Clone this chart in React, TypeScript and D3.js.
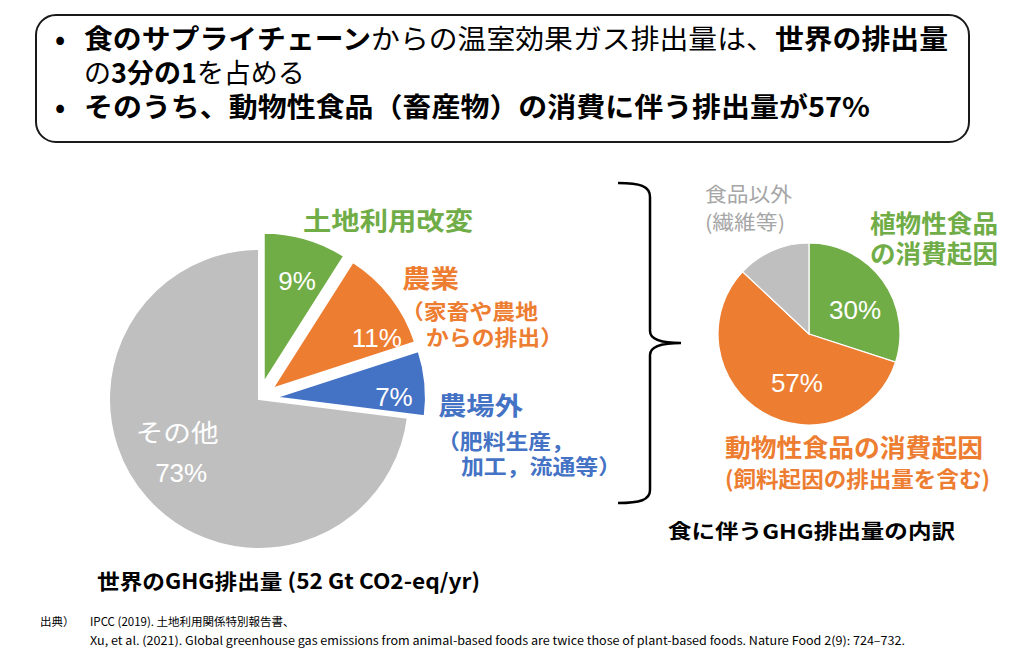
import React from "react";
import * as d3 from "d3";

// ---------- data ----------
const leftCategories = ["土地利用改変", "農業", "農場外", "その他"];
const leftValues = [9, 11, 7, 73];
const leftColors = ["#70AD47", "#ED7D31", "#4472C4", "#BFBFBF"];
const leftExploded = [true, true, true, false];

const rightCategories = ["植物性食品の消費起因", "動物性食品の消費起因", "食品以外"];
const rightValues = [30, 57, 13];
const rightColors = ["#70AD47", "#ED7D31", "#BFBFBF"];
const rightShowPct = [true, true, false];

const headerLine1 = [
  { t: "食のサプライチェーン", b: true },
  { t: "からの温室効果ガス排出量は、", b: false },
  { t: "世界の排出量", b: true },
];
const headerLine2 = [
  { t: "の", b: false },
  { t: "3分の1", b: true },
  { t: "を占める", b: false },
];
const headerLine3 = "そのうち、動物性食品（畜産物）の消費に伴う排出量が57%";

const leftTitle = "世界のGHG排出量 (52 Gt CO2-eq/yr)";
const rightTitle = "食に伴うGHG排出量の内訳";
const sourceLines = [
  "IPCC (2019). 土地利用関係特別報告書、",
  "Xu, et al. (2021). Global greenhouse gas emissions from animal-based foods are twice those of plant-based foods. Nature Food 2(9): 724–732.",
];

// ---------- layout ----------
const W = 1024;
const H = 653;
const JP = "'Noto Sans CJK JP', 'Noto Sans', sans-serif";
const LAT = "'Liberation Sans', Arial, sans-serif";

const L = { cx: 259, cy: 399, r: 150, explode: 17 };
const R = { cx: 809, cy: 334, r: 91 };
// label placement tweaks (angle nudge in degrees, radius in px)
const leftLabelPos = [
  { da: 2, r: 107 },
  { da: 12, r: 116 },
  { da: 5, r: 118 },
  { da: 8, r: 98 },
];
const rightLabelPos = [
  { da: 8.5, r: 52 },
  { da: -16.6, r: 50 },
  { da: 0, r: 50 },
];

const toXY = (ang: number, r: number) => [Math.sin(ang) * r, -Math.cos(ang) * r];

export default function App() {
  const pie = d3.pie<number>().sort(null).value((d) => d);
  const leftArcs = pie(leftValues);
  const rightArcs = pie(rightValues);
  const arcL = d3.arc<d3.PieArcDatum<number>>().innerRadius(0).outerRadius(L.r);
  const arcR = d3.arc<d3.PieArcDatum<number>>().innerRadius(0).outerRadius(R.r);

  return (
    <svg width={W} height={H} viewBox={`0 0 ${W} ${H}`} style={{ position: "absolute", left: 0, top: 0, background: "#fff" }}>
      <rect x={0} y={0} width={W} height={H} fill="#fff" />
      {/* header box */}
      <rect x={36} y={15} width={933} height={127} rx={20} ry={20} fill="none" stroke="#1a1a1a" strokeWidth={2} />
      <g fontFamily={JP} fontSize={27} fill="#000">
        <text x={55} y={49} fontWeight={700}>•</text>
        <text x={84} y={49} textLength={864} lengthAdjust="spacingAndGlyphs">
          {headerLine1.map((s, i) => (
            <tspan key={i} fontWeight={s.b ? 700 : 400}>{s.t}</tspan>
          ))}
        </text>
        <text x={84} y={83}>
          {headerLine2.map((s, i) => (
            <tspan key={i} fontWeight={s.b ? 700 : 400}>{s.t}</tspan>
          ))}
        </text>
        <text x={55} y={117} fontWeight={700}>•</text>
        <text x={84} y={117} fontWeight={700} textLength={786} lengthAdjust="spacingAndGlyphs">{headerLine3}</text>
      </g>

      {/* left pie */}
      <g>
        {leftArcs.map((a, i) => {
          const mid = (a.startAngle + a.endAngle) / 2;
          const [ox, oy] = leftExploded[i] ? toXY(mid, L.explode) : [0, 0];
          return (
            <path
              key={i}
              d={arcL(a) || ""}
              transform={`translate(${L.cx + ox},${L.cy + oy})`}
              fill={leftColors[i]}
              stroke="#fff"
              strokeWidth={2}
              strokeLinejoin="round"
            />
          );
        })}
        {leftArcs.map((a, i) => {
          const mid = (a.startAngle + a.endAngle) / 2;
          const [ox, oy] = leftExploded[i] ? toXY(mid, L.explode) : [0, 0];
          const lp = leftLabelPos[i];
          const [lx, ly] = toXY(mid + (lp.da * Math.PI) / 180, lp.r);
          const x = L.cx + ox + lx;
          const y = L.cy + oy + ly;
          if (i === 3) {
            return (
              <g key={i} fill="#fff" textAnchor="middle">
                <text x={x} y={y - 19.5} dy="0.35em" fontFamily={JP} fontSize={25} textLength={83} lengthAdjust="spacingAndGlyphs">
                  {leftCategories[i]}
                </text>
                <text x={x + 4} y={y + 19.5} dy="0.35em" fontFamily={LAT} fontSize={26}>
                  {`${leftValues[i]}%`}
                </text>
              </g>
            );
          }
          return (
            <text key={i} x={x} y={y} dy="0.35em" textAnchor="middle" fill="#fff" fontFamily={LAT} fontSize={26}>
              {`${leftValues[i]}%`}
            </text>
          );
        })}
      </g>

      {/* left outside labels */}
      <g fontFamily={JP} fontWeight={700}>
        <text x={303} y={229.5} fontSize={25} fill={leftColors[0]} textLength={170} lengthAdjust="spacingAndGlyphs">{leftCategories[0]}</text>
        <text x={402} y={287.5} fontSize={25} fill={leftColors[1]} textLength={57} lengthAdjust="spacingAndGlyphs">{leftCategories[1]}</text>
        <text x={401} y={319} fontSize={21} fill={leftColors[1]} textLength={137} lengthAdjust="spacingAndGlyphs">（家畜や農地</text>
        <text x={426} y={345} fontSize={21} fill={leftColors[1]} textLength={137} lengthAdjust="spacingAndGlyphs">からの排出）</text>
        <text x={438} y={414.5} fontSize={25} fill={leftColors[2]} textLength={85} lengthAdjust="spacingAndGlyphs">{leftCategories[2]}</text>
        <text x={437} y={449} fontSize={21} fill={leftColors[2]} textLength={137} lengthAdjust="spacingAndGlyphs">（肥料生産，</text>
        <text x={461} y={474} fontSize={21} fill={leftColors[2]} textLength={160} lengthAdjust="spacingAndGlyphs">加工，流通等）</text>
      </g>
      <text x={97} y={588.5} fontFamily={JP} fontWeight={700} fontSize={21} fill="#000" textLength={383} lengthAdjust="spacingAndGlyphs">
        {leftTitle}
      </text>

      {/* brace */}
      <path
        d="M618,183 C640,183 650,186 650,197 L650,331 C650,339 660,343 681,343 C660,343 650,347 650,355 L650,490 C650,500 640,503 618,503"
        fill="none"
        stroke="#000"
        strokeWidth={2.5}
      />

      {/* right pie */}
      <g transform={`translate(${R.cx},${R.cy})`}>
        {rightArcs.map((a, i) => (
          <path key={i} d={arcR(a) || ""} fill={rightColors[i]} stroke="#fff" strokeWidth={1.2} />
        ))}
        {rightArcs.map((a, i) => {
          if (!rightShowPct[i]) return null;
          const mid = (a.startAngle + a.endAngle) / 2;
          const lp = rightLabelPos[i];
          const [lx, ly] = toXY(mid + (lp.da * Math.PI) / 180, lp.r);
          return (
            <text key={i} x={lx} y={ly} dy="0.35em" textAnchor="middle" fill="#fff" fontFamily={LAT} fontSize={26}>
              {`${rightValues[i]}%`}
            </text>
          );
        })}
      </g>

      {/* right labels */}
      <g fontFamily={JP}>
        <text x={705} y={201.5} fontSize={20} fill="#A6A6A6" textLength={87} lengthAdjust="spacingAndGlyphs">{rightCategories[2]}</text>
        <text x={705} y={229.5} fontSize={20} fill="#A6A6A6" textLength={80} lengthAdjust="spacingAndGlyphs">(繊維等)</text>
        <text x={870} y={232.5} fontSize={25} fontWeight={700} fill={rightColors[0]} textLength={128} lengthAdjust="spacingAndGlyphs">植物性食品</text>
        <text x={870} y={262.5} fontSize={25} fontWeight={700} fill={rightColors[0]} textLength={128} lengthAdjust="spacingAndGlyphs">の消費起因</text>
        <text x={725} y={456.5} fontSize={25} fontWeight={700} fill={rightColors[1]} textLength={258} lengthAdjust="spacingAndGlyphs">{rightCategories[1]}</text>
        <text x={725} y={486.5} fontSize={22} fontWeight={700} fill={rightColors[1]} textLength={265} lengthAdjust="spacingAndGlyphs">(飼料起因の排出量を含む)</text>
        <text x={668} y={539} fontSize={20} fontWeight={700} fill="#000" textLength={287} lengthAdjust="spacingAndGlyphs">{rightTitle}</text>
      </g>

      {/* source */}
      <g fontFamily={JP} fontSize={11.5} fill="#000">
        <text x={40} y={626}>出典）</text>
        <text x={90} y={626}>{sourceLines[0]}</text>
        <text x={90} y={645} textLength={815} lengthAdjust="spacingAndGlyphs">{sourceLines[1]}</text>
      </g>
    </svg>
  );
}
